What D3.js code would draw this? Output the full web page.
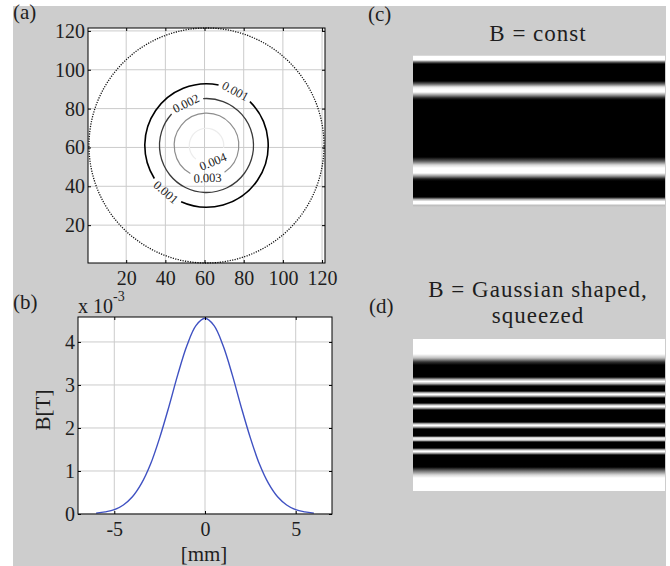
<!DOCTYPE html>
<html>
<head>
<meta charset="utf-8">
<script src="https://cdn.jsdelivr.net/npm/d3@7"></script>
<style>
    body { margin: 0; background: #fff; }
    text { font-family: "Liberation Serif", "Times New Roman", serif; fill: #1e1e1e; }
    .axis path { display: none; }
    .axis line { stroke: #000; stroke-width: 1; }
</style>
</head>
<body>
<svg id="fig" width="670" height="566"></svg>
<script>
// (a) field map, pixel coordinates 1..121
var ticksA = [20, 40, 60, 80, 100, 120];
var centreA = [61, 61];
var rimRadius = 60;
var contourLevels = ["0.001", "0.002", "0.003", "0.004"];
var contourRadii = [31.5, 24, 16.5, 8.8];
var contourColors = ["#000", "#3a3a3a", "#8e8e8e", "#ececec"];
var contourWidths = [1.6, 1.3, 1.2, 1.2];
var labelAngles = [[62, -131], [116], [-88], [-68]];

// (b) profile through the centre, B in 1e-3 T
var profileX = [-6, -5.5, -5, -4.5, -4, -3.5, -3, -2.5, -2, -1.5, -1, -0.5, 0,
                0.5, 1, 1.5, 2, 2.5, 3, 3.5, 4, 4.5, 5, 5.5, 6];
var profileB = [0.02, 0.05, 0.10, 0.21, 0.40, 0.71, 1.16, 1.77, 2.48, 3.24, 3.91, 4.38, 4.55,
                4.38, 3.91, 3.24, 2.48, 1.77, 1.16, 0.71, 0.40, 0.21, 0.10, 0.05, 0.02];
var ticksBX = [-5, 0, 5];
var ticksBY = [0, 1, 2, 3, 4];

// (c) and (d) fringe intensity across the detector rows (0..152)
var rowsC = [0, 1.5, 5, 7, 9, 26, 29, 32, 34, 37, 40, 43, 45, 102, 106, 110, 113, 118,
             121, 124, 126, 142, 144.5, 146.5, 148.5, 150.5, 152];
var intensityC = [0.78, 1, 1, 0.4, 0, 0, 0.4, 0.9, 1, 1, 0.6, 0.15, 0, 0, 0.35, 0.85, 1, 1,
                  0.6, 0.1, 0, 0, 0.7, 1, 1, 0.75, 0.8];
var rowsD = [0, 15, 19, 23, 26, 38, 40.5, 42.5, 44.5, 47, 52, 54, 55.5, 57, 59, 64, 66, 67.5,
             69, 71, 83, 85, 86.5, 88, 90, 97, 98.5, 100, 101.5, 103, 109, 111, 112.5, 114,
             116, 128, 132, 136, 139, 152];
var intensityD = [1, 1, 0.75, 0.2, 0, 0, 0.7, 1, 0.7, 0, 0, 0.8, 1, 0.7, 0, 0, 0.8, 1,
                  0.7, 0, 0, 0.8, 1, 0.7, 0, 0, 0.8, 1, 0.7, 0, 0, 0.8, 1, 0.7,
                  0, 0, 0.45, 0.85, 1, 1];

var svg = d3.select("#fig");
var defs = svg.append("defs");

svg.append("rect")
    .attr("x", 13).attr("y", 6)
    .attr("width", 653).attr("height", 560)
    .attr("fill", "#cdcdcd");

function panelLabel(txt, x, y) {
    svg.append("text").attr("x", x).attr("y", y)
        .style("font-size", "21px").text(txt);
}

// ---------- (a) ----------
var boxA = { l: 88, r: 325, t: 28, b: 263 };
var xA = d3.scaleLinear().domain([0.5, 121.5]).range([boxA.l, boxA.r]);
var yA = d3.scaleLinear().domain([0.5, 121.5]).range([boxA.b, boxA.t]);
var gA = svg.append("g");

gA.append("rect")
    .attr("x", boxA.l).attr("y", boxA.t)
    .attr("width", boxA.r - boxA.l).attr("height", boxA.b - boxA.t)
    .attr("fill", "#fff");

gA.selectAll(".gx").data(ticksA).enter().append("line")
    .attr("x1", function (d) { return xA(d); }).attr("x2", function (d) { return xA(d); })
    .attr("y1", boxA.t).attr("y2", boxA.b)
    .attr("stroke", "#cbcbcb");
gA.selectAll(".gy").data(ticksA).enter().append("line")
    .attr("y1", function (d) { return yA(d); }).attr("y2", function (d) { return yA(d); })
    .attr("x1", boxA.l).attr("x2", boxA.r)
    .attr("stroke", "#cbcbcb");

var cx = xA(centreA[0]), cy = yA(centreA[1]);
var pxPerUnit = xA(1) - xA(0);

gA.append("circle")
    .attr("cx", cx).attr("cy", cy).attr("r", rimRadius * pxPerUnit)
    .attr("fill", "none").attr("stroke", "#111")
    .attr("stroke-width", 1.3).attr("stroke-dasharray", "1.2,1.3");

contourLevels.forEach(function (lev, i) {
    var r = contourRadii[i] * pxPerUnit;
    var gaps = labelAngles[i].map(function (a) {
        var phi = -a * Math.PI / 180;
        if (phi < 0) phi += 2 * Math.PI;
        return { phi: phi, half: (15 + 3) / r };
    }).sort(function (p, q) { return p.phi - q.phi; });

    var path = d3.path();
    gaps.forEach(function (gp, k) {
        var next = gaps[(k + 1) % gaps.length];
        var a0 = gp.phi + gp.half;
        var a1 = next.phi - next.half;
        if (a1 <= a0) a1 += 2 * Math.PI;
        path.moveTo(cx + r * Math.cos(a0), cy + r * Math.sin(a0));
        path.arc(cx, cy, r, a0, a1, false);
    });
    gA.append("path")
        .attr("d", path.toString())
        .attr("fill", "none")
        .attr("stroke", contourColors[i])
        .attr("stroke-width", contourWidths[i]);

    gaps.forEach(function (gp) {
        var lx = cx + r * Math.cos(gp.phi), ly = cy + r * Math.sin(gp.phi);
        var rot = gp.phi * 180 / Math.PI + 90;
        while (rot > 90) rot -= 180;
        while (rot <= -90) rot += 180;
        gA.append("text")
            .attr("transform", "translate(" + lx + "," + ly + ") rotate(" + rot + ")")
            .attr("text-anchor", "middle").attr("dy", "0.35em")
            .style("font-size", "12.5px")
            .text(lev);
    });
});

gA.append("rect")
    .attr("x", boxA.l).attr("y", boxA.t)
    .attr("width", boxA.r - boxA.l).attr("height", boxA.b - boxA.t)
    .attr("fill", "none").attr("stroke", "#000");

function styleTicks(sel) {
    sel.selectAll("text").style("font-size", "20px").attr("fill", "#1e1e1e");
}

gA.append("g").attr("class", "axis")
    .attr("transform", "translate(0," + boxA.b + ")")
    .call(d3.axisBottom(xA).tickValues(ticksA).tickSize(-3).tickPadding(8).tickSizeOuter(0))
    .call(styleTicks);
gA.append("g").attr("class", "axis")
    .attr("transform", "translate(" + boxA.l + ",0)")
    .call(d3.axisLeft(yA).tickValues(ticksA).tickSize(-3).tickPadding(3).tickSizeOuter(0))
    .call(styleTicks);
gA.append("g").attr("class", "axis")
    .attr("transform", "translate(0," + boxA.t + ")")
    .call(d3.axisTop(xA).tickValues(ticksA).tickSize(-3).tickFormat("").tickSizeOuter(0));
gA.append("g").attr("class", "axis")
    .attr("transform", "translate(" + boxA.r + ",0)")
    .call(d3.axisRight(yA).tickValues(ticksA).tickSize(-3).tickFormat("").tickSizeOuter(0));

panelLabel("(a)", 13, 19);

// ---------- (b) ----------
var boxB = { l: 78, r: 332, t: 317, b: 514 };
var xB = d3.scaleLinear().domain([-7, 7]).range([boxB.l, boxB.r]);
var yB = d3.scaleLinear().domain([0, 4.58]).range([boxB.b, boxB.t]);
var gB = svg.append("g");

gB.append("rect")
    .attr("x", boxB.l).attr("y", boxB.t)
    .attr("width", boxB.r - boxB.l).attr("height", boxB.b - boxB.t)
    .attr("fill", "#fff");
gB.selectAll(".gx").data(ticksBX).enter().append("line")
    .attr("x1", function (d) { return xB(d); }).attr("x2", function (d) { return xB(d); })
    .attr("y1", boxB.t).attr("y2", boxB.b)
    .attr("stroke", "#cbcbcb");
gB.selectAll(".gy").data(ticksBY).enter().append("line")
    .attr("y1", function (d) { return yB(d); }).attr("y2", function (d) { return yB(d); })
    .attr("x1", boxB.l).attr("x2", boxB.r)
    .attr("stroke", "#cbcbcb");

var line = d3.line()
    .x(function (d, i) { return xB(profileX[i]); })
    .y(function (d) { return yB(d); })
    .curve(d3.curveCatmullRom);
gB.append("path")
    .datum(profileB)
    .attr("d", line)
    .attr("fill", "none")
    .attr("stroke", "#3f51c2")
    .attr("stroke-width", 1.4);

gB.append("rect")
    .attr("x", boxB.l).attr("y", boxB.t)
    .attr("width", boxB.r - boxB.l).attr("height", boxB.b - boxB.t)
    .attr("fill", "none").attr("stroke", "#000");

var plain = function (d) { return String(d); };
gB.append("g").attr("class", "axis")
    .attr("transform", "translate(0," + boxB.b + ")")
    .call(d3.axisBottom(xB).tickValues(ticksBX).tickSize(-3).tickPadding(8).tickSizeOuter(0)
        .tickFormat(plain))
    .call(styleTicks);
gB.append("g").attr("class", "axis")
    .attr("transform", "translate(" + boxB.l + ",0)")
    .call(d3.axisLeft(yB).tickValues(ticksBY).tickSize(-3).tickPadding(3).tickSizeOuter(0)
        .tickFormat(plain))
    .call(styleTicks);
gB.append("g").attr("class", "axis")
    .attr("transform", "translate(0," + boxB.t + ")")
    .call(d3.axisTop(xB).tickValues(ticksBX).tickSize(-3).tickFormat("").tickSizeOuter(0));
gB.append("g").attr("class", "axis")
    .attr("transform", "translate(" + boxB.r + ",0)")
    .call(d3.axisRight(yB).tickValues(ticksBY).tickSize(-3).tickFormat("").tickSizeOuter(0));

var expo = gB.append("text").attr("x", boxB.l).attr("y", 313).style("font-size", "20px");
expo.append("tspan").text("x 10");
expo.append("tspan").attr("dy", -12).style("font-size", "14px").text("-3");

gB.append("text")
    .attr("transform", "translate(50,410) rotate(-90)")
    .attr("text-anchor", "middle")
    .style("font-size", "21px")
    .text("B[T]");
gB.append("text")
    .attr("x", (boxB.l + boxB.r) / 2 - 1).attr("y", 561)
    .attr("text-anchor", "middle")
    .style("font-size", "21px")
    .text("[mm]");

panelLabel("(b)", 13, 309);

// ---------- (c), (d) fringe images ----------
function fringes(id, rows, intensity, box) {
    var yScale = d3.scaleLinear().domain([0, 152]).range([0, 1]);
    var grey = d3.scaleLinear().domain([0, 1]).range(["#000", "#fff"]);
    var grad = defs.append("linearGradient")
        .attr("id", id)
        .attr("x1", 0).attr("y1", 0).attr("x2", 0).attr("y2", 1);
    grad.selectAll("stop").data(rows).enter().append("stop")
        .attr("offset", function (d) { return yScale(d); })
        .attr("stop-color", function (d, i) { return grey(intensity[i]); });
    svg.append("rect")
        .attr("x", box.l).attr("y", box.t)
        .attr("width", box.r - box.l).attr("height", box.b - box.t)
        .attr("fill", "url(#" + id + ")");
}

fringes("fc", rowsC, intensityC, { l: 413, r: 665, t: 55, b: 207 });
fringes("fd", rowsD, intensityD, { l: 413, r: 665, t: 339, b: 491 });

function title(txt, x, y) {
    svg.append("text").attr("x", x).attr("y", y)
        .attr("text-anchor", "middle")
        .style("font-size", "23px").style("letter-spacing", "1px")
        .text(txt);
}
title("B = const", 538, 41);
title("B = Gaussian shaped,", 538, 297);
title("squeezed", 538, 323);

panelLabel("(c)", 368, 21);
panelLabel("(d)", 369, 313);
</script>
</body>
</html>
